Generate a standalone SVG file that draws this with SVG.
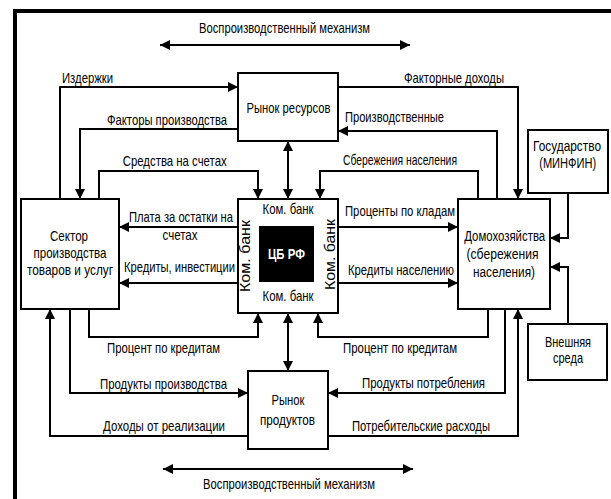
<svg xmlns="http://www.w3.org/2000/svg" width="611" height="499" viewBox="0 0 611 499">
<style>
.box{fill:#fff;stroke:#000;stroke-width:2}
.ln{fill:none;stroke:#000;stroke-width:2}
text{font-family:"Liberation Sans",Arial,sans-serif;font-size:15px;fill:#000;text-anchor:middle}
.cb{fill:#fff;font-weight:bold}
.v{font-size:14px}
.s{font-size:14px}
</style>
<defs>
<marker id="ah" markerUnits="userSpaceOnUse" markerWidth="11" markerHeight="10" refX="10" refY="5" orient="auto-start-reverse" viewBox="0 0 11 10">
<path d="M0,0 L10,5 L0,10 z" fill="#000"/>
</marker>
</defs>
<rect x="0" y="0" width="611" height="499" fill="#fff"/>
<path d="M15,499 V11 H611" fill="none" stroke="#000" stroke-width="4"/>

<g id="connectors">
<path class="ln" d="M160,45 H410" marker-start="url(#ah)" marker-end="url(#ah)"/>
<path class="ln" d="M163,469 H413" marker-start="url(#ah)" marker-end="url(#ah)"/>
<path class="ln" d="M60,199 V87 H238" marker-end="url(#ah)"/>
<path class="ln" d="M238,129 H80 V199" marker-end="url(#ah)"/>
<path class="ln" d="M99,199 V171 H258 V199" marker-end="url(#ah)"/>
<path class="ln" d="M288,141 V199" marker-start="url(#ah)" marker-end="url(#ah)"/>
<path class="ln" d="M478,199 V171 H320 V199" marker-end="url(#ah)"/>
<path class="ln" d="M338,87 H518 V199" marker-end="url(#ah)"/>
<path class="ln" d="M497,199 V131 H338" marker-end="url(#ah)"/>
<path class="ln" d="M238,227 H119" marker-end="url(#ah)"/>
<path class="ln" d="M238,283 H119" marker-end="url(#ah)"/>
<path class="ln" d="M338,227 H458" marker-end="url(#ah)"/>
<path class="ln" d="M338,283 H458" marker-end="url(#ah)"/>
<path class="ln" d="M568,193 V238 H550" marker-end="url(#ah)"/>
<path class="ln" d="M568,324 V267 H550" marker-end="url(#ah)"/>
<path class="ln" d="M89,309 V337 H258 V313" marker-end="url(#ah)"/>
<path class="ln" d="M488,309 V337 H318 V313" marker-end="url(#ah)"/>
<path class="ln" d="M288,313 V371" marker-start="url(#ah)" marker-end="url(#ah)"/>
<path class="ln" d="M70,309 V393 H248" marker-end="url(#ah)"/>
<path class="ln" d="M248,436 H50 V309" marker-end="url(#ah)"/>
<path class="ln" d="M505,309 V393 H328" marker-end="url(#ah)"/>
<path class="ln" d="M328,436 H518 V309" marker-end="url(#ah)"/>
</g>

<g id="labels">
<text x="284.5" y="33" textLength="171" lengthAdjust="spacingAndGlyphs">Воспроизводственный механизм</text>
<text x="289" y="489" textLength="172" lengthAdjust="spacingAndGlyphs">Воспроизводственный механизм</text>
<text x="87.5" y="83" textLength="51" lengthAdjust="spacingAndGlyphs">Издержки</text>
<text x="167" y="125" textLength="120" lengthAdjust="spacingAndGlyphs">Факторы производства</text>
<text x="174.7" y="166" textLength="104" lengthAdjust="spacingAndGlyphs">Средства на счетах</text>
<text x="400" y="165" textLength="114" lengthAdjust="spacingAndGlyphs">Сбережения населения</text>
<text x="454" y="83" textLength="100" lengthAdjust="spacingAndGlyphs">Факторные доходы</text>
<text x="394.5" y="122" textLength="99" lengthAdjust="spacingAndGlyphs">Производственные</text>
<text x="181" y="222" textLength="104" lengthAdjust="spacingAndGlyphs">Плата за остатки на</text>
<text x="180" y="240" textLength="35" lengthAdjust="spacingAndGlyphs">счетах</text>
<text x="179.5" y="272" textLength="111" lengthAdjust="spacingAndGlyphs">Кредиты, инвестиции</text>
<text x="400" y="216" textLength="110" lengthAdjust="spacingAndGlyphs">Проценты по кладам</text>
<text x="401" y="275" textLength="106" lengthAdjust="spacingAndGlyphs">Кредиты населению</text>
<text x="163.5" y="353" textLength="113" lengthAdjust="spacingAndGlyphs">Процент по кредитам</text>
<text x="400" y="353" textLength="114" lengthAdjust="spacingAndGlyphs">Процент по кредитам</text>
<text x="163.5" y="389" textLength="127" lengthAdjust="spacingAndGlyphs">Продукты производства</text>
<text x="423.5" y="388" textLength="123" lengthAdjust="spacingAndGlyphs">Продукты потребления</text>
<text x="164" y="431" textLength="122" lengthAdjust="spacingAndGlyphs">Доходы от реализации</text>
<text x="421" y="431" textLength="138" lengthAdjust="spacingAndGlyphs">Потребительские расходы</text>
</g>

<g id="resource-market">
<rect class="box" x="238" y="73" width="100" height="68"/>
<text x="288.5" y="113" textLength="84" lengthAdjust="spacingAndGlyphs">Рынок ресурсов</text>
</g>

<g id="bank">
<rect class="box" x="238" y="199" width="100" height="114"/>
<rect x="259" y="226" width="55" height="56" fill="#000"/>
<text class="cb" x="286.5" y="259" textLength="37" lengthAdjust="spacingAndGlyphs">ЦБ РФ</text>
<text x="288" y="214" textLength="51" lengthAdjust="spacingAndGlyphs">Ком. банк</text>
<text x="288" y="301" textLength="51" lengthAdjust="spacingAndGlyphs">Ком. банк</text>
<text class="v" transform="translate(250,256) rotate(-90)" x="0" y="0" textLength="72" lengthAdjust="spacingAndGlyphs">Ком. банк</text>
<text class="v" transform="translate(335,254.5) rotate(-90)" x="0" y="0" textLength="71" lengthAdjust="spacingAndGlyphs">Ком. банк</text>
</g>

<g id="sector">
<rect class="box" x="21" y="199" width="98" height="110"/>
<text x="69" y="241" textLength="38" lengthAdjust="spacingAndGlyphs">Сектор</text>
<text x="70" y="258" textLength="73" lengthAdjust="spacingAndGlyphs">производства</text>
<text x="70" y="275" textLength="86" lengthAdjust="spacingAndGlyphs">товаров и услуг</text>
</g>

<g id="households">
<rect class="box" x="458" y="199" width="92" height="110"/>
<text class="s" x="504.7" y="241" textLength="81" lengthAdjust="spacingAndGlyphs">Домохозяйства</text>
<text class="s" x="502.5" y="259" textLength="72" lengthAdjust="spacingAndGlyphs">(сбережения</text>
<text class="s" x="504" y="277" textLength="62" lengthAdjust="spacingAndGlyphs">населения)</text>
</g>

<g id="state">
<rect class="box" x="528" y="130" width="80" height="63"/>
<text class="s" x="567" y="151" textLength="68" lengthAdjust="spacingAndGlyphs">Государство</text>
<text class="s" x="567.7" y="168" textLength="57" lengthAdjust="spacingAndGlyphs">(МИНФИН)</text>
</g>

<g id="external">
<rect class="box" x="528" y="324" width="79" height="56"/>
<text x="568" y="347" textLength="46" lengthAdjust="spacingAndGlyphs">Внешняя</text>
<text x="568" y="363" textLength="30" lengthAdjust="spacingAndGlyphs">среда</text>
</g>

<g id="product-market">
<rect class="box" x="248" y="371" width="80" height="78"/>
<text x="288" y="405" textLength="33" lengthAdjust="spacingAndGlyphs">Рынок</text>
<text x="287.5" y="425" textLength="55" lengthAdjust="spacingAndGlyphs">продуктов</text>
</g>
</svg>
